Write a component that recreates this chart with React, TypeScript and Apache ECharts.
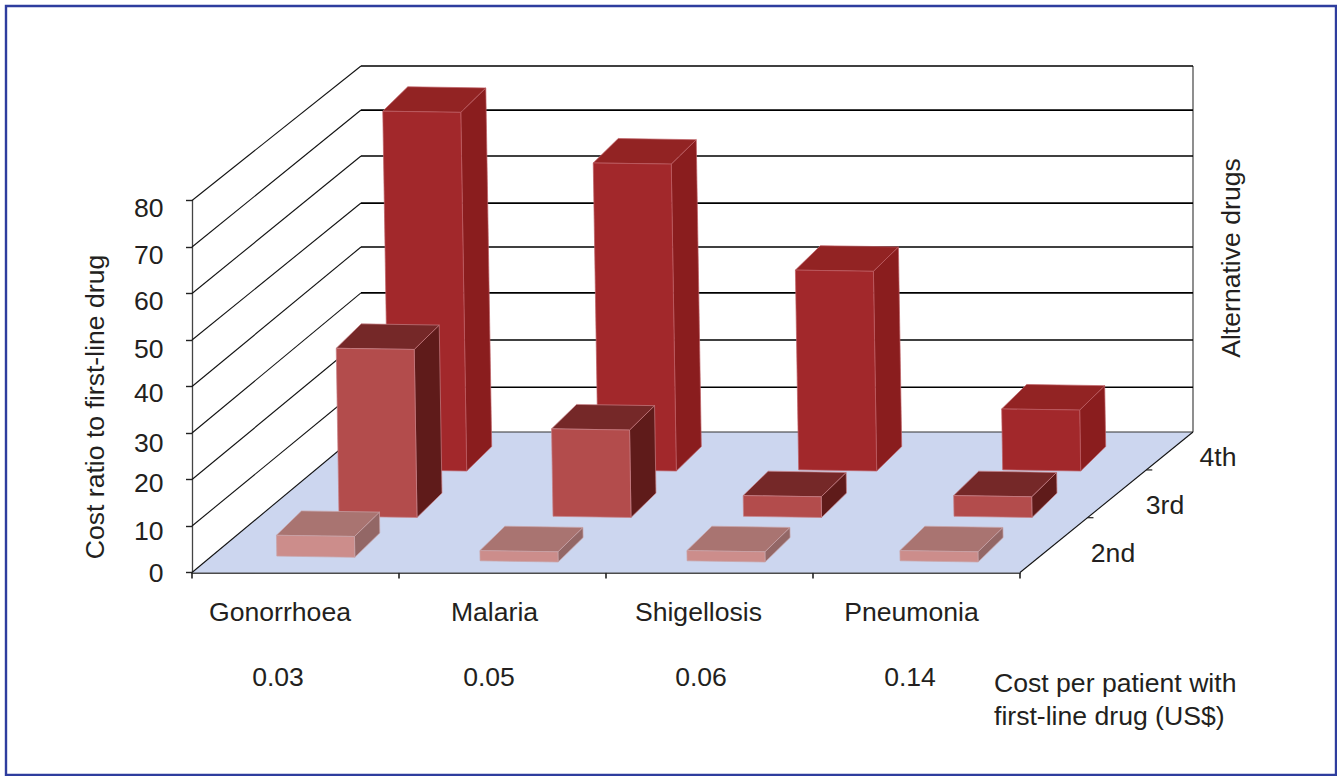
import React, { useEffect, useRef } from "react";
import * as echarts from "echarts";

const WIDTH = 1337;
const HEIGHT = 776;

// Chart values: cost ratio of each alternative drug against the first-line drug.
const diseases = ["Gonorrhoea", "Malaria", "Shigellosis", "Pneumonia"];
const firstLineCost = ["0.03", "0.05", "0.06", "0.14"];
const altRows = ["2nd", "3rd", "4th"];
const secondDrug = [4.5, 2.2, 2.2, 2.2];
const thirdDrug = [36.5, 19, 4.5, 4.5];
const fourthDrug = [78.3, 67, 43.6, 13.3];
const yTicks = [0, 10, 20, 30, 40, 50, 60, 70, 80];

// Oblique projection of the box: front plane is the grid, the floor recedes to the back wall.
const FRONT = { left: 192, right: 1020, bottom: 572.5, top: 200.5 };
const BACK = { left: 361, right: 1193, bottom: 432, top: 66 };
const BOX_DEPTH = { x: 25, y: -24.4 };
const BAR_WIDTH = 78;
const LEAN = 0.0165;

// Back-wall rule offsets per tick, bottom to top, in pixels.
const WALL_NUDGE = [0, 1, -0.5, -1.8, -2, -0.2, -1.5, -1.7, 0];
const DEPTH_TICKS = [0.39, 0.73];

const ROW_LAYOUT = [
  { dx: -20, floor: 10.5, scale: 0.995, front: "#cc8d8b", top: "#a97471", side: "#936766", edge: "#c9a3a8" },
  { dx: 41.4, floor: 55, scale: 0.99, front: "#b34c4c", top: "#752828", side: "#5f1b1a", edge: "#c77f85" },
  { dx: 90.8, floor: 101.5, scale: 0.985, front: "#a2282b", top: "#922323", side: "#8a1d1e", edge: "#bd5d63" },
];
// Hand placement of individual boxes inside their depth row, in pixels.
const BAR_NUDGE = [
  [[1.3, -4.7], [-2.4, 0], [-2.4, 0], [3.6, 0]],
  [[2.1, 0], [9.1, 0], [-7.4, 0], [-3.9, 0]],
  [[2.4, 0], [5, 0], [-1.6, 0], [-4.6, 0]],
];
const NAME_SHIFT = [-15.5, -8, -11, -5];
const COST_SHIFT = [-17.5, -13.5, -8.5, -6.5];
// Vertical offset of each value label from its tick, bottom to top.
const Y_LABEL_SHIFT = [0.5, 4.5, 3, 9.5, 6, 8.5, 7, 8, 7.5];

const FONT = "'Liberation Sans', Arial, sans-serif";
const FONT_SIZE = 26.6;
const INK = "#231f20";

function wallSeries() {
  return {
    type: "custom",
    silent: true,
    data: yTicks.map((v) => [0, v]),
    renderItem: (_p: any, api: any) => {
      const v = api.value(1);
      const frontY = api.coord([0, v])[1];
      const backY =
        BACK.bottom + (BACK.top - BACK.bottom) * (v / 80) + WALL_NUDGE[yTicks.indexOf(v)];
      const children: any[] = [];
      if (v > 0) {
        children.push({
          type: "line",
          shape: { x1: FRONT.left, y1: frontY, x2: BACK.left, y2: backY },
          style: { stroke: "#111", lineWidth: 1.1 },
        });
        children.push({
          type: "line",
          shape: { x1: BACK.left, y1: backY, x2: BACK.right, y2: backY },
          style: { stroke: "#000", lineWidth: 1.7 },
        });
      } else {
        children.push({
          type: "polygon",
          shape: {
            points: [
              [FRONT.left, FRONT.bottom],
              [FRONT.right, FRONT.bottom],
              [BACK.right, BACK.bottom],
              [BACK.left, BACK.bottom],
            ],
          },
          style: { fill: "#ccd6ef" },
        });
        children.push({
          type: "line",
          shape: { x1: BACK.left, y1: BACK.bottom, x2: BACK.right, y2: BACK.bottom },
          style: { stroke: "#333", lineWidth: 1.2 },
        });
        children.push({
          type: "line",
          shape: { x1: BACK.right, y1: BACK.top, x2: BACK.right, y2: BACK.bottom },
          style: { stroke: "#444", lineWidth: 1.2 },
        });
        children.push({
          type: "line",
          shape: { x1: FRONT.left, y1: FRONT.bottom, x2: BACK.left, y2: BACK.bottom },
          style: { stroke: "#111", lineWidth: 1.1 },
        });
        children.push({
          type: "line",
          shape: { x1: FRONT.right, y1: FRONT.bottom, x2: BACK.right, y2: BACK.bottom },
          style: { stroke: "#111", lineWidth: 1.1 },
        });
        // Depth-axis ticks between the alternative-drug rows.
        DEPTH_TICKS.forEach((t) => {
          const ex = FRONT.right + (BACK.right - FRONT.right) * t;
          const ey = FRONT.bottom + (BACK.bottom - FRONT.bottom) * t;
          children.push({
            type: "line",
            shape: { x1: ex, y1: ey, x2: ex + 6, y2: ey },
            style: { stroke: "#222", lineWidth: 1.2 },
          });
        });
      }
      return { type: "group", children };
    },
  };
}

function boxSeries(rowIndex: number, values: number[]) {
  const row = ROW_LAYOUT[rowIndex];
  return {
    type: "custom",
    name: altRows[rowIndex],
    silent: true,
    data: values.map((v, c) => [c, v]),
    renderItem: (_p: any, api: any) => {
      const c = api.value(0);
      const [cx, zeroY] = api.coord([c, 0]);
      const topPx = api.coord([c, api.value(1)])[1];
      const h = (zeroY - topPx) * row.scale;
      const [nx, ny] = BAR_NUDGE[rowIndex][c];
      const xl = cx + row.dx + nx;
      const xr = xl + BAR_WIDTH;
      const yb = zeroY - row.floor + ny;
      const lean = h * LEAN;
      const tilt = 1.2;
      const bl = [xl, yb - tilt];
      const br = [xr, yb];
      const tl = [xl - lean, yb - tilt - h];
      const tr = [xr - lean, yb - h];
      const shift = (p: number[]) => [p[0] + BOX_DEPTH.x, p[1] + BOX_DEPTH.y];
      const edge = { stroke: row.edge, lineWidth: 0.7 };
      return {
        type: "group",
        children: [
          {
            type: "polygon",
            shape: { points: [tr, shift(tr), shift(br), br] },
            style: { fill: row.side, ...edge },
          },
          {
            type: "polygon",
            shape: { points: [tl, shift(tl), shift(tr), tr] },
            style: { fill: row.top, ...edge },
          },
          {
            type: "polygon",
            shape: { points: [tl, tr, br, bl] },
            style: { fill: row.front, ...edge },
          },
        ],
      };
    },
  };
}

function textAt(x: number, y: number, text: string, extra: any = {}) {
  return {
    type: "text",
    x,
    y,
    silent: true,
    style: {
      text,
      fill: INK,
      font: `${FONT_SIZE}px ${FONT}`,
      textAlign: "center",
      textVerticalAlign: "middle",
      ...extra,
    },
  };
}

export default function App() {
  const ref = useRef<HTMLDivElement>(null);

  useEffect(() => {
    const chart = echarts.init(ref.current!, null, { renderer: "svg" });
    const bandCenter = (c: number) =>
      FRONT.left + ((FRONT.right - FRONT.left) / diseases.length) * (c + 0.5);
    const tickY = (v: number) =>
      FRONT.bottom - ((FRONT.bottom - FRONT.top) * v) / yTicks[yTicks.length - 1];

    chart.setOption({
      animation: false,
      backgroundColor: "#fff",
      grid: {
        left: FRONT.left,
        top: FRONT.top,
        width: FRONT.right - FRONT.left,
        height: FRONT.bottom - FRONT.top,
        containLabel: false,
      },
      xAxis: {
        type: "category",
        data: diseases,
        boundaryGap: true,
        axisLine: { lineStyle: { color: "#111", width: 1.6 } },
        axisTick: { show: true, length: 6, lineStyle: { color: "#222", width: 1.6 } },
        axisLabel: { show: false },
        splitLine: { show: false },
      },
      yAxis: {
        type: "value",
        min: 0,
        max: 80,
        interval: 10,
        axisLine: { show: true, lineStyle: { color: "#444", width: 1.3 } },
        axisTick: { show: true, length: 6, lineStyle: { color: "#222", width: 1.4 } },
        axisLabel: { show: false },
        splitLine: { show: false },
      },
      series: [
        wallSeries(),
        boxSeries(2, fourthDrug),
        boxSeries(1, thirdDrug),
        boxSeries(0, secondDrug),
      ],
      graphic: [
        {
          type: "rect",
          silent: true,
          shape: { x: 6, y: 6, width: 1330, height: 769 },
          style: { fill: "none", stroke: "#2e3d9e", lineWidth: 2.4 },
        },
        ...yTicks.map((v, i) =>
          textAt(163.5, tickY(v) + Y_LABEL_SHIFT[i], String(v), { textAlign: "right" })
        ),
        ...diseases.map((d, c) => textAt(bandCenter(c) + NAME_SHIFT[c], 612, d)),
        ...firstLineCost.map((d, c) => textAt(bandCenter(c) + COST_SHIFT[c], 677, d)),
        textAt(1113, 553, altRows[0]),
        textAt(1165, 505, altRows[1]),
        textAt(1218, 457, altRows[2]),
        { ...textAt(95, 407, "Cost ratio to first-line drug"), rotation: Math.PI / 2 },
        { ...textAt(1231, 258, "Alternative drugs"), rotation: Math.PI / 2 },
        textAt(994, 683, "Cost per patient with", { textAlign: "left" }),
        textAt(994, 716, "first-line drug (US$)", { textAlign: "left" }),
      ],
    });
    return () => chart.dispose();
  }, []);

  return (
    <div
      ref={ref}
      style={{ position: "fixed", left: 0, top: 0, width: WIDTH, height: HEIGHT }}
    />
  );
}
